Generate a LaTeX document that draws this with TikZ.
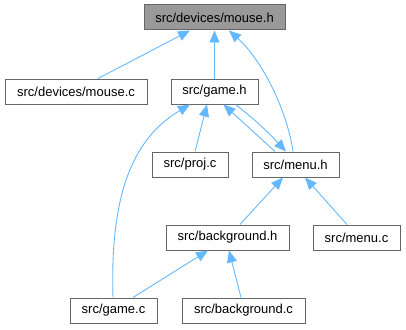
\documentclass[tikz,border=0pt]{standalone}
\usepackage{fontspec}
\setmainfont{Liberation Sans}
\usetikzlibrary{arrows.meta}
\definecolor{edgeblue}{HTML}{63B8FF}
\definecolor{boxborder}{HTML}{666666}
\definecolor{rootfill}{HTML}{999999}
\begin{document}
\begin{tikzpicture}[x=1pt,y=-1pt,
  file/.style={draw=boxborder, line width=1pt, fill=white, rectangle, inner sep=0pt,
    minimum height=25pt, font=\fontsize{13}{15}\selectfont},
  root/.style={file, fill=rootfill},
  dep/.style={draw=edgeblue, line width=0.9pt,
    {Triangle[length=12pt,width=10pt,fill=edgeblue]}-}]
\useasboundingbox (0,0) rectangle (406,329);

% files
\node[root, minimum width=141pt] (mouseh) at (214.5,17.5) {src/devices/mouse.h};
\node[file, minimum width=142pt] (mousec) at (76,91.5) {src/devices/mouse.c};
\node[file, minimum width=87pt] (gameh) at (214.5,91.5) {src/game.h};
\node[file, minimum width=76pt] (projc) at (190,164.5) {src/proj.c};
\node[file, minimum width=87pt] (menuh) at (295.5,164.5) {src/menu.h};
\node[file, minimum width=123pt] (bgh) at (227.5,237.5) {src/background.h};
\node[file, minimum width=87pt] (menuc) at (356.5,237.5) {src/menu.c};
\node[file, minimum width=87pt] (gamec) at (113.5,310.5) {src/game.c};
\node[file, minimum width=123pt] (bgc) at (243.5,310.5) {src/background.c};

% include relations (arrow points at the included file)
\draw[dep] ([xshift=-24.5pt]mouseh.south) -- ([xshift=22pt]mousec.north);
\draw[dep] (mouseh.south) -- (gameh.north);
\draw[dep] ([xshift=14.5pt]mouseh.south)
  .. controls (262,60) and (287,110) .. ([xshift=-2.5pt]menuh.north);
\draw[dep] ([xshift=-7.5pt]gameh.south) -- ([xshift=5pt]projc.north);
\draw[dep] ([xshift=9pt]gameh.south) -- ([xshift=-20.5pt]menuh.north);
\draw[dep] ([xshift=-9.5pt]menuh.north) .. controls (268,132) and (252,117) .. ([xshift=21pt]gameh.south);
\draw[dep] ([xshift=-24.5pt]gameh.south)
  .. controls (130,140) and (110,200) .. ([xshift=-0.5pt]gamec.north);
\draw[dep] ([xshift=-12.5pt]menuh.south) -- ([xshift=12.5pt]bgh.north);
\draw[dep] ([xshift=9.5pt]menuh.south) -- ([xshift=-9.5pt]menuc.north);
\draw[dep] ([xshift=-19.5pt]bgh.south) -- ([xshift=19.5pt]gamec.north);
\draw[dep] ([xshift=1.5pt]bgh.south) -- ([xshift=-2.5pt]bgc.north);
\end{tikzpicture}
\end{document}
